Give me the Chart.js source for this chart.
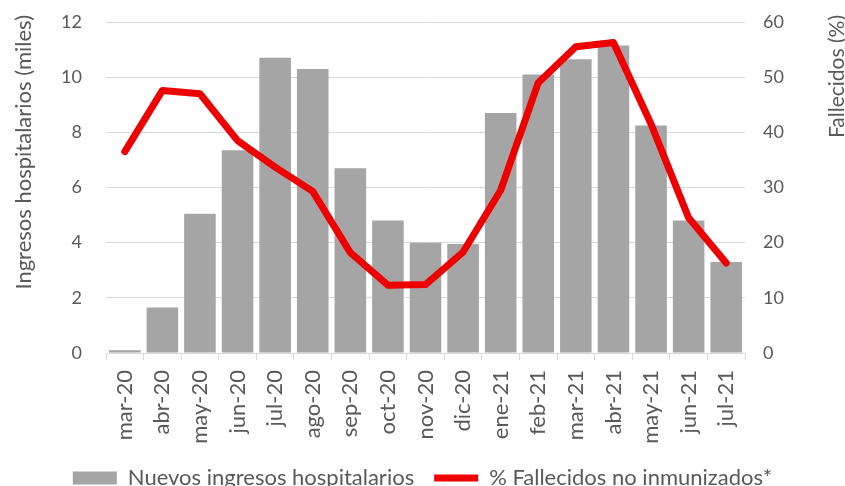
<!DOCTYPE html>
<html>
<head>
<meta charset="utf-8">
<script src="https://cdn.jsdelivr.net/npm/chart.js@4"></script>
<style>
  html, body { margin: 0; padding: 0; background: #fff; }
  #chart { display: block; }
</style>
</head>
<body>
<canvas id="chart" width="845" height="486"></canvas>
<script>
// meses
const labels = ['mar-20', 'abr-20', 'may-20', 'jun-20', 'jul-20', 'ago-20', 'sep-20', 'oct-20', 'nov-20',
    'dic-20', 'ene-21', 'feb-21', 'mar-21', 'abr-21', 'may-21', 'jun-21', 'jul-21'];

// ingresos hospitalarios (miles)
const ingresos = [0.1, 1.65, 5.05, 7.35, 10.7, 10.3, 6.7, 4.8, 4.0, 3.95, 8.7, 10.1, 10.65, 11.15, 8.25, 4.8, 3.3];

// % fallecidos no inmunizados
const fallecidos = [36.5, 47.6, 47.0, 38.5, 33.7, 29.3, 18.2, 12.3, 12.4, 18.3, 29.5, 49.0, 55.5, 56.3, 41.5, 24.5, 16.3];

const serieBarras = 'Nuevos ingresos hospitalarios';
const serieLinea = '% Fallecidos no inmunizados*';
const tituloIzq = 'Ingresos hospitalarios (miles)';
const tituloDer = 'Fallecidos (%)';

const gris = '#a5a5a5';
const rojo = '#ee0000';
const texto = '#595959';

// base del area de graficos y ajuste de la leyenda
const baseY = 353;
const padInf = -13;

// titulos de los ejes, leidos de abajo hacia arriba
const axisTitles = {
    id: 'axisTitles',
    afterDraw(chart) {
        const ctx = chart.ctx;
        ctx.save();
        ctx.fillStyle = texto;
        ctx.textAlign = 'right';
        ctx.textBaseline = 'middle';
        ctx.font = '22px Lato';
        ctx.translate(24, 15);
        ctx.rotate(-Math.PI / 2);
        ctx.fillText(tituloIzq, 0, 0);
        ctx.restore();

        ctx.save();
        ctx.fillStyle = texto;
        ctx.textAlign = 'right';
        ctx.textBaseline = 'middle';
        ctx.font = '21px Lato';
        ctx.translate(837, 15);
        ctx.rotate(-Math.PI / 2);
        ctx.fillText(tituloDer, 0, 0);
        ctx.restore();
    }
};

const ctx = document.getElementById('chart');
const chart = new Chart(ctx, {
    data: {
        labels: labels,
        datasets: [{
            type: 'line',
            label: serieLinea,
            data: fallecidos,
            yAxisID: 'y1',
            order: 0,
            borderColor: rojo,
            backgroundColor: rojo,
            borderWidth: 7,
            borderJoinStyle: 'round',
            borderCapStyle: 'round',
            pointRadius: 0,
            tension: 0,
            fill: false
        }, {
            type: 'bar',
            label: serieBarras,
            data: ingresos,
            yAxisID: 'y',
            order: 1,
            backgroundColor: gris,
            borderWidth: 0,
            categoryPercentage: 1,
            barPercentage: 0.84
        }]
    },
    options: {
        responsive: false,
        animation: false,
        devicePixelRatio: 1,
        layout: { padding: { top: 22, left: 0, right: 0, bottom: padInf } },
        plugins: {
            tooltip: { enabled: false },
            legend: {
                position: 'bottom',
                labels: {
                    usePointStyle: true,
                    pointStyleWidth: 44,
                    boxHeight: 13,
                    padding: 20,
                    color: texto,
                    font: { family: 'Lato', size: 22 },
                    generateLabels: () => [{
                        text: serieBarras,
                        fillStyle: gris,
                        strokeStyle: gris,
                        lineWidth: 0,
                        pointStyle: 'rect',
                        fontColor: texto,
                        datasetIndex: 1
                    }, {
                        text: serieLinea,
                        fillStyle: rojo,
                        strokeStyle: rojo,
                        lineWidth: 7,
                        lineCap: 'butt',
                        pointStyle: 'line',
                        fontColor: texto,
                        datasetIndex: 0
                    }]
                }
            }
        },
        scales: {
            x: {
                offset: true,
                grid: {
                    display: true,
                    offset: true,
                    drawOnChartArea: false,
                    tickLength: 7,
                    color: '#d9d9d9'
                },
                border: { display: true, color: '#d9d9d9' },
                ticks: {
                    minRotation: 90,
                    maxRotation: 90,
                    padding: 10,
                    color: texto,
                    font: { family: 'Lato', size: 22 }
                },
                afterFit: scale => { scale.height = 486 - padInf - baseY - scale.chart.legend.height; }
            },
            y: {
                position: 'left',
                min: 0,
                max: 12,
                ticks: {
                    stepSize: 2,
                    padding: 0,
                    color: texto,
                    font: { family: 'Lato', size: 18 }
                },
                // marcas invisibles: separan las etiquetas del eje
                grid: { color: '#d9d9d9', drawTicks: true, tickLength: 24, tickColor: 'rgba(0,0,0,0)' },
                border: { display: false },
                afterFit: scale => { scale.width = 106; }
            },
            y1: {
                position: 'right',
                min: 0,
                max: 60,
                ticks: {
                    stepSize: 10,
                    padding: 0,
                    color: texto,
                    font: { family: 'Lato', size: 18 }
                },
                grid: { drawOnChartArea: false, drawTicks: true, tickLength: 18, tickColor: 'rgba(0,0,0,0)' },
                border: { display: false },
                afterFit: scale => { scale.width = 100; }
            }
        }
    },
    plugins: [axisTitles]
});
</script>
</body>
</html>
